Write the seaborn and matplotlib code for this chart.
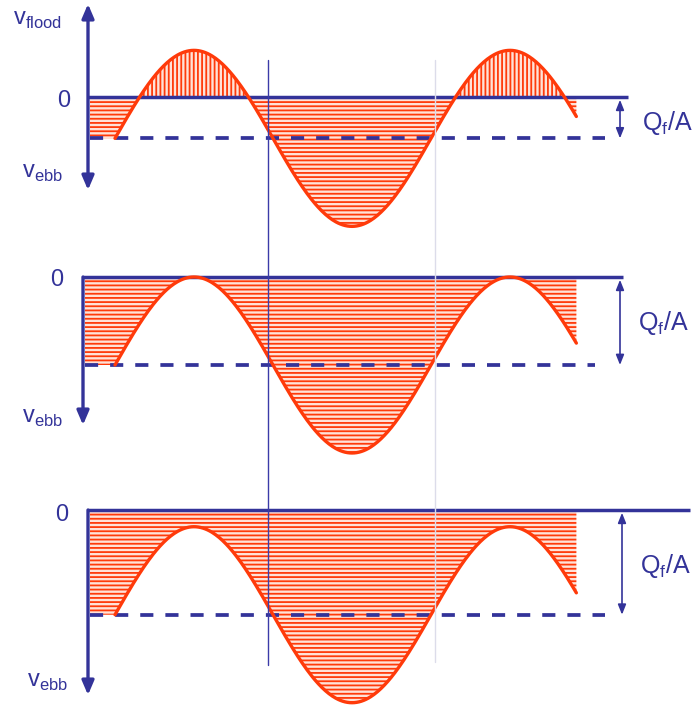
import numpy as np
import matplotlib
matplotlib.use("Agg")
import matplotlib.pyplot as plt
import matplotlib.transforms as mtransforms
import seaborn as sns

# Tidal velocity in an estuary: v(t) = U0*cos(2*pi*t) - Qf/A
# Velocities in units of the tidal amplitude U0, time in tidal periods (t = 0 at peak flood)
residual_flow = [0.47, 1.0, 1.19]      # Qf/A for the three cases
tidal_amplitude = [1.0, 1.0, 1.0]       # U0
signal_window = [-0.25, 1.21]           # start / end of the drawn signal
period_samples = 400

NAVY = "#333399"
RED = "#ff3a0a"
FILL_FACE = "#ffe2d8"

sns.set_theme(style="white")
plt.rcParams["font.family"] = ["Liberation Sans", "DejaVu Sans"]
plt.rcParams["hatch.linewidth"] = 1.3

W, H = 697, 708
fig = plt.figure(figsize=(W / 100, H / 100), dpi=100)

# layout (pixels): horizontal scale, vertical scale, panel bands, zero levels
X_PEAK, PX_T, PX_V = 194, 316, 88
bands = [(0, 235), (236, 470), (471, 708)]
zero_px = [97, 277, 510]


def tx(px):
    return (px - X_PEAK) / PX_T


axes = []
for i, ((top, bot), z) in enumerate(zip(bands, zero_px)):
    ax = fig.add_axes([0, 1 - bot / H, 1, (bot - top) / H])
    ax.set_xlim(tx(0), tx(W))
    ax.set_ylim(-(bot - z) / PX_V, (z - top) / PX_V)
    ax.axis("off")
    axes.append(ax)

# layout per panel: axis x, zero-line end, dashed end, Qf/A arrow x, label positions
axis_x = [88, 83, 88]
zero_end = [628, 623, 690]
dash_end = [605, 595, 605]
qa_x = [620, 620, 622]
ebb_label = [(22, 178), (22, 423), (27, 687)]
zero_label = [(57, 107), (50, 286), (55, 521)]
qa_label = [(642, 130), (638, 330), (640, 573)]
axis_bottom = [190, 425, 695]

for i, ax in enumerate(axes):
    z = zero_px[i]
    vy = lambda py, z=z: (z - py) / PX_V
    qf = residual_flow[i]
    u0 = tidal_amplitude[i]

    t = np.linspace(signal_window[0], signal_window[1], period_samples)
    v = u0 * np.cos(2 * np.pi * t) - qf

    # hatched areas between the signal and zero; the first value is held back to the axis
    tf = np.concatenate([[tx(axis_x[i] + 2)], t])
    vf = np.concatenate([[v[0]], v])
    ax.fill_between(tf, vf, 0, where=vf <= 0, interpolate=True,
                    facecolor=FILL_FACE, edgecolor=RED, linewidth=0,
                    hatch="----", zorder=1)
    ax.fill_between(tf, vf, 0, where=vf >= 0, interpolate=True,
                    facecolor=FILL_FACE, edgecolor=RED, linewidth=0,
                    hatch="||||", zorder=1)

    # zero line and mean (-Qf/A) line
    ax.plot([tx(axis_x[i]), tx(zero_end[i])], [0, 0], color=NAVY, lw=2.5,
            solid_capstyle="butt", zorder=3)
    ax.plot([tx(axis_x[i] + 2), tx(dash_end[i])], [-qf, -qf], color=NAVY,
            lw=2.7, ls=(0, (3.5, 3.2)), zorder=3)

    # tidal velocity signal
    sns.lineplot(x=t, y=v, ax=ax, color=RED, lw=2.4, zorder=5,
                 estimator=None, sort=False)

    # Qf/A dimension arrow
    ax.annotate("", xy=(tx(qa_x[i]), -qf), xytext=(tx(qa_x[i]), 0),
                arrowprops=dict(arrowstyle="<|-|>,head_length=0.5,head_width=0.2",
                                color=NAVY, lw=1.2, shrinkA=2, shrinkB=0))
    ax.text(tx(qa_label[i][0]), vy(qa_label[i][1]), r"Q$_\mathregular{f}$/A",
            color=NAVY, fontsize=18, ha="left", va="baseline")

    # velocity axis
    if i == 0:
        ax.annotate("", xy=(tx(axis_x[i]), vy(axis_bottom[i])),
                    xytext=(tx(axis_x[i]), vy(4)),
                    arrowprops=dict(arrowstyle="<|-|>,head_length=0.7,head_width=0.3",
                                    color=NAVY, lw=2.4, shrinkA=0, shrinkB=0))
        ax.text(tx(13), vy(25), r"v$_\mathregular{flood}$", color=NAVY,
                fontsize=17, ha="left", va="baseline")
    else:
        ax.annotate("", xy=(tx(axis_x[i]), vy(axis_bottom[i])),
                    xytext=(tx(axis_x[i]), 0.0),
                    arrowprops=dict(arrowstyle="-|>,head_length=0.7,head_width=0.3",
                                    color=NAVY, lw=2.4, shrinkA=0, shrinkB=0))
    ax.text(tx(ebb_label[i][0]), vy(ebb_label[i][1]), r"v$_\mathregular{ebb}$",
            color=NAVY, fontsize=17, ha="left", va="baseline")
    ax.text(tx(zero_label[i][0]), vy(zero_label[i][1]), "0", color=NAVY,
            fontsize=17, ha="left", va="baseline")

# guide lines through the crossings of the signal with its mean, across all panels
guide = mtransforms.blended_transform_factory(axes[0].transData, fig.transFigure)
fig.add_artist(plt.Line2D([tx(268), tx(268)], [1 - 60 / H, 1 - 665 / H],
                          transform=guide, color="#3b3ba8", lw=1.0, zorder=4))
fig.add_artist(plt.Line2D([tx(435), tx(435)], [1 - 60 / H, 1 - 662 / H],
                          transform=guide, color="#dcdcea", lw=1.0, zorder=4))

fig.savefig("out.png", dpi=100, facecolor="white")
